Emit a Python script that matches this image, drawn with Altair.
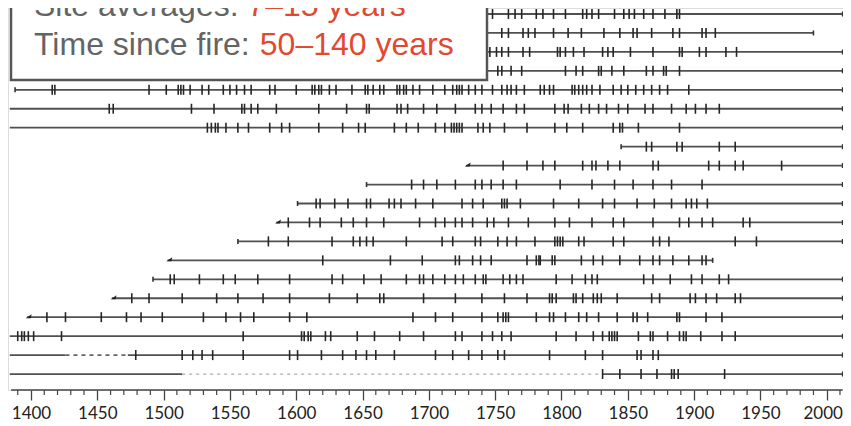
import altair as alt
import pandas as pd

# ---------------- data ----------------
rows = list(range(1, 21))
row_start = [1700, 1700, 1700, 1700, 1388, 1384, 1384, 1845, 1728, 1653,
             1601, 1585, 1556, 1503, 1492, 1461, 1397, 1384, 1384, 1384]
row_end = [2012, 1990, 2012, 2012, 2012, 2012, 2012, 2012, 2012, 2012,
           2012, 2012, 2012, 1914, 2012, 2012, 2012, 2012, 2012, 2012]
start_kind = ["none", "none", "none", "none", "cap", "none", "none", "cap", "pith", "cap",
              "cap", "pith", "cap", "pith", "cap", "pith", "pith", "none", "none", "none"]

# gaps drawn dashed: (row, from, to, style)
gap_rows = [19, 20]
gap_from = [1426, 1514]
gap_to = [1473, 1831]
gap_style = ["dark", "light"]

scars = {
    1: [1748, 1760, 1765, 1770, 1781, 1786, 1794, 1803, 1816, 1819, 1823, 1828, 1840, 1847, 1851, 1855,
        1862, 1869, 1878, 1887, 1889],
    2: [1755, 1760, 1771, 1775, 1780, 1794, 1805, 1815, 1832, 1844, 1854, 1857, 1868, 1884, 1889, 1906,
        1909, 1916],
    3: [1746, 1751, 1755, 1760, 1771, 1776, 1797, 1799, 1803, 1809, 1817, 1831, 1835, 1839, 1852, 1869,
        1889, 1891, 1904, 1909, 1924, 1932],
    4: [1752, 1755, 1762, 1770, 1803, 1811, 1816, 1828, 1830, 1838, 1847, 1864, 1869, 1877, 1879, 1889],
    5: [1416, 1418, 1489, 1502, 1511, 1513, 1515, 1520, 1529, 1534, 1545, 1550, 1555, 1561, 1566, 1580,
        1584, 1600, 1612, 1614, 1617, 1619, 1625, 1630, 1642, 1652, 1654, 1658, 1663, 1666, 1676, 1678,
        1681, 1683, 1688, 1693, 1703, 1712, 1718, 1721, 1723, 1725, 1730, 1735, 1740, 1748, 1755, 1759,
        1762, 1766, 1772, 1784, 1787, 1791, 1794, 1808, 1810, 1813, 1816, 1819, 1823, 1829, 1839, 1845,
        1850, 1856, 1862, 1868, 1874, 1880, 1896],
    6: [1459, 1462, 1521, 1538, 1559, 1561, 1566, 1571, 1585, 1617, 1638, 1653, 1655, 1676, 1679, 1684,
        1696, 1706, 1720, 1735, 1740, 1747, 1756, 1766, 1772, 1795, 1802, 1805, 1815, 1821, 1828, 1834,
        1843, 1850, 1863, 1869, 1883, 1894, 1901, 1909, 1919],
    7: [1533, 1536, 1539, 1541, 1547, 1556, 1564, 1580, 1589, 1595, 1617, 1635, 1647, 1652, 1674, 1683,
        1692, 1705, 1712, 1717, 1719, 1721, 1723, 1725, 1737, 1741, 1746, 1757, 1774, 1795, 1804, 1816,
        1839, 1844, 1846, 1858, 1889],
    8: [1864, 1868, 1887, 1891, 1919, 1931],
    9: [1756, 1774, 1786, 1795, 1816, 1823, 1826, 1835, 1844, 1869, 1873, 1911, 1919, 1931, 1937, 1966],
    10: [1687, 1696, 1706, 1720, 1735, 1740, 1747, 1756, 1766, 1799, 1823, 1840, 1854, 1869, 1883, 1906],
    11: [1615, 1618, 1629, 1639, 1653, 1656, 1670, 1674, 1679, 1690, 1703, 1725, 1733, 1741, 1755, 1757,
         1759, 1769, 1794, 1813, 1831, 1840, 1857, 1870, 1883, 1894, 1898, 1902, 1910],
    12: [1594, 1610, 1618, 1634, 1643, 1653, 1666, 1693, 1705, 1712, 1720, 1725, 1733, 1744, 1749, 1760,
         1775, 1795, 1806, 1823, 1839, 1847, 1869, 1889, 1896, 1906, 1914, 1937, 1942],
    13: [1579, 1594, 1627, 1643, 1648, 1653, 1658, 1683, 1710, 1718, 1735, 1739, 1752, 1759, 1766, 1780,
         1795, 1797, 1799, 1801, 1813, 1817, 1839, 1847, 1869, 1874, 1881, 1931, 1947],
    14: [1620, 1671, 1695, 1720, 1723, 1733, 1739, 1747, 1774, 1781, 1783, 1784, 1793, 1795, 1815, 1824,
         1831, 1844, 1859, 1869, 1874, 1884, 1896, 1906, 1909],
    15: [1505, 1508, 1527, 1545, 1554, 1571, 1595, 1627, 1635, 1651, 1664, 1683, 1693, 1696, 1703, 1712,
         1720, 1726, 1735, 1741, 1743, 1756, 1761, 1766, 1771, 1796, 1808, 1818, 1823, 1827, 1862, 1869,
         1882, 1898, 1906, 1919, 1926],
    16: [1476, 1489, 1514, 1540, 1556, 1575, 1595, 1625, 1646, 1663, 1666, 1696, 1720, 1740, 1757, 1774,
         1791, 1793, 1796, 1809, 1811, 1816, 1824, 1827, 1830, 1842, 1868, 1874, 1897, 1901, 1909, 1917,
         1931, 1935],
    17: [1412, 1426, 1453, 1472, 1483, 1499, 1530, 1547, 1558, 1568, 1595, 1608, 1688, 1705, 1718, 1740,
         1752, 1756, 1758, 1760, 1781, 1791, 1794, 1803, 1813, 1819, 1828, 1842, 1854, 1857, 1865, 1887,
         1889, 1909, 1921],
    18: [1390, 1393, 1395, 1398, 1402, 1423, 1560, 1604, 1606, 1609, 1611, 1622, 1626, 1646, 1659, 1678,
         1696, 1720, 1725, 1740, 1748, 1755, 1762, 1796, 1811, 1824, 1831, 1836, 1838, 1840, 1842, 1858,
         1867, 1869, 1880, 1889, 1892, 1894, 1905, 1921, 1931],
    19: [1479, 1514, 1522, 1529, 1537, 1560, 1595, 1601, 1619, 1635, 1645, 1653, 1660, 1674, 1705, 1718,
         1730, 1740, 1752, 1757, 1791, 1818, 1831, 1857, 1860, 1869, 1873],
    20: [1831, 1844, 1860, 1872, 1883, 1885, 1888, 1923],
}

major_years = list(range(1400, 2001, 50))
minor_years = [y for y in range(1390, 2011, 10) if y % 50 != 0]

box_gray = ["Site averages: ", "Time since fire: "]
box_red = ["7\u201315 years", "50\u2013140 years"]

# ---------------- tables ----------------
seg = []
for r, s, e in zip(rows, row_start, row_end):
    if r in gap_rows:
        k = gap_rows.index(r)
        seg.append({"row": r, "a": s, "b": gap_from[k]})
        seg.append({"row": r, "a": gap_to[k], "b": e})
    else:
        seg.append({"row": r, "a": s, "b": e})
seg_df = pd.DataFrame(seg)
gap_df = pd.DataFrame({"row": gap_rows, "a": gap_from, "b": gap_to, "style": gap_style})

scar_df = pd.DataFrame([{"row": r, "a": y} for r, ys in scars.items() for y in ys])
caps = [{"row": r, "a": e} for r, e in zip(rows, row_end)]
caps += [{"row": r, "a": s} for r, s, k in zip(rows, row_start, start_kind) if k == "cap"]
cap_df = pd.DataFrame(caps)
pith_df = pd.DataFrame([{"row": r, "a": s} for r, s, k in zip(rows, row_start, start_kind) if k == "pith"])
minor_df = pd.DataFrame({"a": minor_years})
axis_df = pd.DataFrame({"a": [1385], "b": [2012]})

W, H = 835, 382
xs = alt.Scale(domain=[1382.66, 1382.66 + W / 1.3262], nice=False, zero=False)
ys = alt.Scale(domain=[0.6834, 20.842], nice=False, zero=False, reverse=True)
ax = alt.Axis(values=major_years, tickSize=10, tickColor="#444444", tickWidth=1.3,
              domain=False, grid=False, title=None, labelFont="Lato",
              labelFontSize=17, labelColor="#222222", labelPadding=5, format="d",
              labelOffset={"condition": {"test": "datum.value >= 2000", "value": -4}, "value": 0})
X = alt.X("a:Q", scale=xs, axis=ax)
Y = alt.Y("row:Q", scale=ys, axis=None)

lines = alt.Chart(seg_df).mark_rule(color="#505050", strokeWidth=1.8).encode(
    x=X, x2="b:Q", y=Y)
gap_dark = alt.Chart(gap_df).transform_filter("datum.style == 'dark'").mark_rule(
    color="#666666", strokeWidth=1.6, strokeDash=[4, 4]).encode(x=X, x2="b:Q", y=Y)
gap_light = alt.Chart(gap_df).transform_filter("datum.style == 'light'").mark_rule(
    color="#aaaaaa", strokeWidth=1.3, strokeDash=[3, 4]).encode(x=X, x2="b:Q", y=Y)

scar_marks = alt.Chart(scar_df).mark_tick(orient="vertical", size=10, thickness=1.6,
                                          color="#262626", opacity=1).encode(x=X, y=Y)
cap_marks = alt.Chart(cap_df).mark_tick(orient="vertical", size=5, thickness=1.6,
                                        color="#333333", opacity=1).encode(x=X, y=Y)
pith_marks = alt.Chart(pith_df).mark_point(
    shape="M -1 0.3 L 0.8 -0.9 L 0.5 0.3 Z", filled=True, size=45, color="#222222", opacity=1,
    xOffset=2).encode(x=X, y=Y)

axis_line = alt.Chart(axis_df).mark_rule(color="#444444", strokeWidth=1.4).encode(
    x=X, x2="b:Q", y=alt.value(H))
minor_marks = alt.Chart(minor_df).mark_rule(color="#444444", strokeWidth=1.2).encode(
    x=X, y=alt.value(H), y2=alt.value(H + 5))

box = alt.Chart(axis_df).mark_rect(fill="white", stroke="#555555", strokeWidth=2.5).encode(
    x=alt.value(3), x2=alt.value(479), y=alt.value(-20), y2=alt.value(72))

txt_df = pd.DataFrame({"gray": box_gray, "red": box_red, "yy": [8, 47],
                       "xr": [239.4, 251.8]})
gray_text = alt.Chart(txt_df).mark_text(align="left", baseline="alphabetic", font="Liberation Sans",
                                        fontSize=32, color="#646464").encode(
    x=alt.value(26), y=alt.Y("yy:Q", scale=None), text="gray:N")
red_text = alt.Chart(txt_df).mark_text(align="left", baseline="alphabetic", font="Liberation Sans",
                                       fontSize=32, color="#e2492f").encode(
    x=alt.X("xr:Q", scale=None), y=alt.Y("yy:Q", scale=None), text="red:N")

chart = alt.layer(lines, gap_dark, gap_light, scar_marks, cap_marks, pith_marks,
                  axis_line, minor_marks, box, gray_text, red_text).properties(
    width=W, height=H,
    autosize=alt.AutoSizeParams(type="none"),
    padding={"left": 0, "top": 0, "right": 0, "bottom": 36},
).configure_view(strokeWidth=0).configure(background="white")

chart.save("out.html", embed_options={"renderer": "svg", "actions": False})
